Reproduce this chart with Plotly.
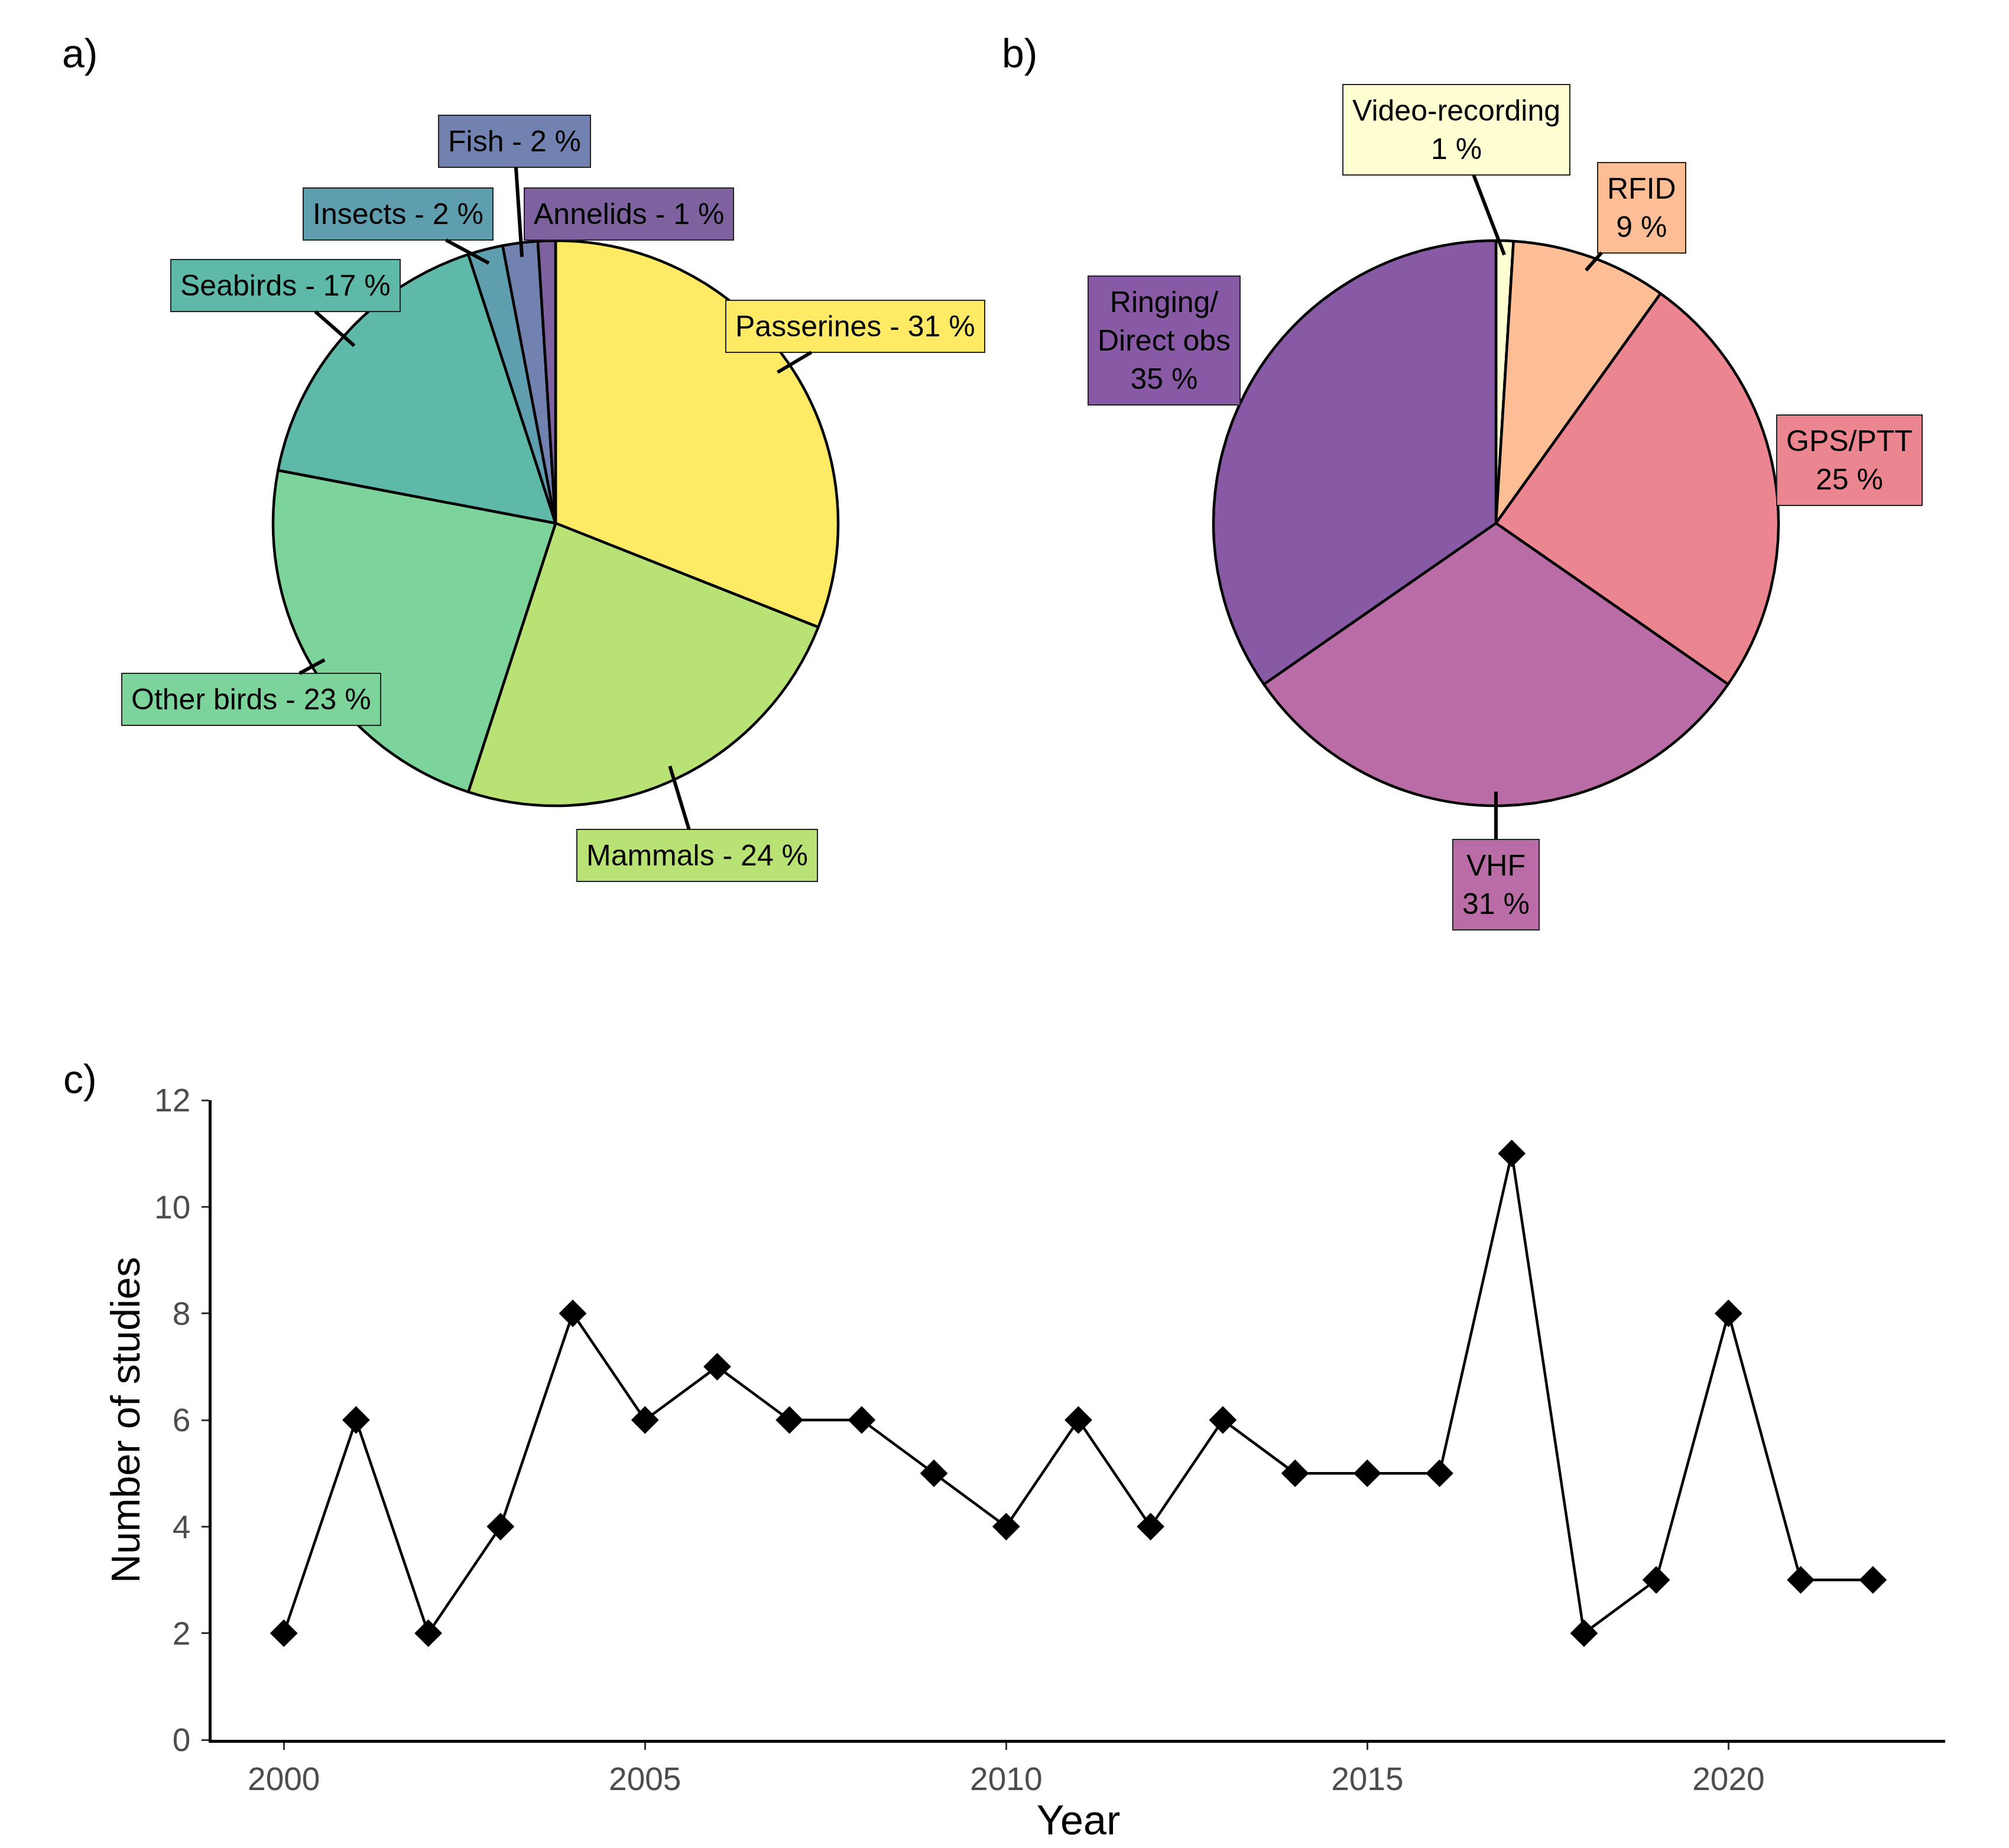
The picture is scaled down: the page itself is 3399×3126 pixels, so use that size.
import math
import plotly.graph_objects as go

# donnees
taxa = ["Passerines", "Mammals", "Other birds", "Seabirds", "Insects", "Fish", "Annelids"]
taxa_pct = [31, 24, 23, 17, 2, 2, 1]
taxa_colors = ["#FFEA66", "#B8E374", "#7DD49B", "#5EB9A9", "#5F9EAF", "#7282B0", "#7E62A0"]

methods = ["Video-recording", "RFID", "GPS/PTT", "VHF", "Ringing/<br>Direct obs"]
methods_pct = [1, 9, 25, 31, 35]
methods_colors = ["#FFFFD1", "#FDBE96", "#EB8590", "#BA6CA6", "#8859A4"]

years = list(range(2000, 2023))
n_studies = [2, 6, 2, 4, 8, 6, 7, 6, 6, 5, 4, 6, 4, 6, 5, 5, 5, 11, 2, 3, 8, 3, 3]

W, H = 3399, 3126
FONT = "Arial, Liberation Sans, sans-serif"

# geometrie des camemberts (pixels)
R = 478
centre_a = (932, 877)
centre_b = (2523, 877)
labels_a_pos = [(1439, 544), (1171, 1439), (417, 1175), (475, 475), (665, 354), (862, 231), (1056, 354)]
labels_b_pos = [(2456, 212), (2769, 343), (3121, 771), (2523, 1488), (1961, 568)]
# segments trop courts caches (comme ggrepel)
traits_a = [True, True, True, True, True, True, False]
traits_b = [True, True, False, True, False]


def domaine(c):
    cx, cy = c
    return dict(x=[(cx - R) / W, (cx + R) / W], y=[1 - (cy + R) / H, 1 - (cy - R) / H])


def etiquettes(valeurs, textes, couleurs, centre, positions, traits):
    total = sum(valeurs)
    cum = 0
    annos = []
    for v, t, col, (lx, ly), trait in zip(valeurs, textes, couleurs, positions, traits):
        mid = (cum + v / 2) / total * 2 * math.pi
        cum += v
        px = centre[0] + 0.95 * R * math.sin(mid)
        py = centre[1] - 0.95 * R * math.cos(mid)
        a = dict(
            xref="paper", yref="paper", text=t,
            bgcolor=col, bordercolor="#222222", borderwidth=2, borderpad=15,
            font=dict(family=FONT, size=50, color="black"),
        )
        if trait:
            a.update(x=px / W, y=1 - py / H, ax=lx - px, ay=ly - py, axref="pixel", ayref="pixel",
                     showarrow=True, arrowhead=0, arrowwidth=6, arrowcolor="black")
        else:
            a.update(x=lx / W, y=1 - ly / H, showarrow=False, xanchor="center", yanchor="middle")
        annos.append(a)
    return annos


fig = go.Figure()

fig.add_trace(go.Pie(
    labels=taxa, values=taxa_pct, sort=False, direction="clockwise",
    marker=dict(colors=taxa_colors, line=dict(color="black", width=4.5)),
    textinfo="none", hoverinfo="label+percent", showlegend=False,
    domain=domaine(centre_a),
))

fig.add_trace(go.Pie(
    labels=methods, values=methods_pct, sort=False, direction="clockwise",
    marker=dict(colors=methods_colors, line=dict(color="black", width=4.5)),
    textinfo="none", hoverinfo="label+percent", showlegend=False,
    domain=domaine(centre_b),
))

# courbe du nombre d'etudes par annee
fig.add_trace(go.Scatter(
    x=years, y=n_studies, mode="lines+markers",
    line=dict(color="black", width=4.5),
    marker=dict(symbol="diamond", size=36, color="black"),
    showlegend=False,
))

annotations = []
annotations += etiquettes(taxa_pct, [f"{t} - {p} %" for t, p in zip(taxa, taxa_pct)],
                          taxa_colors, centre_a, labels_a_pos, traits_a)
annotations += etiquettes(methods_pct, [f"{t}<br>{p} %" for t, p in zip(methods, methods_pct)],
                          methods_colors, centre_b, labels_b_pos, traits_b)

for lettre, (lx, ly) in zip(["a)", "b)", "c)"], [(127, 82), (1717, 82), (127, 1817)]):
    annotations.append(dict(
        x=lx / W, y=1 - ly / H, xref="paper", yref="paper", text=lettre,
        showarrow=False, xanchor="center", yanchor="middle",
        font=dict(family=FONT, size=68, color="black"),
    ))

axe = dict(
    showline=True, linecolor="black", linewidth=4.5, showgrid=False, zeroline=False,
    ticks="outside", ticklen=12, tickwidth=3, tickcolor="#333333",
    tickfont=dict(family=FONT, size=55, color="#4D4D4D"), automargin=False,
)

fig.update_layout(
    width=W, height=H,
    margin=dict(l=0, r=0, t=0, b=0),
    paper_bgcolor="white", plot_bgcolor="white",
    annotations=annotations,
    xaxis=dict(axe, domain=[350 / W, 3283 / W], range=[1999, 2023],
               tickvals=[2000, 2005, 2010, 2015, 2020], ticklabelstandoff=2,
               title=dict(text="Year", font=dict(family=FONT, size=70, color="black"), standoff=0)),
    yaxis=dict(axe, domain=[1 - 2935 / H, 1 - 1853 / H], range=[0, 12], dtick=2,
               ticklabelstandoff=8,
               title=dict(text="Number of studies", font=dict(family=FONT, size=68, color="black"), standoff=4)),
)

fig.write_html("out.html")
